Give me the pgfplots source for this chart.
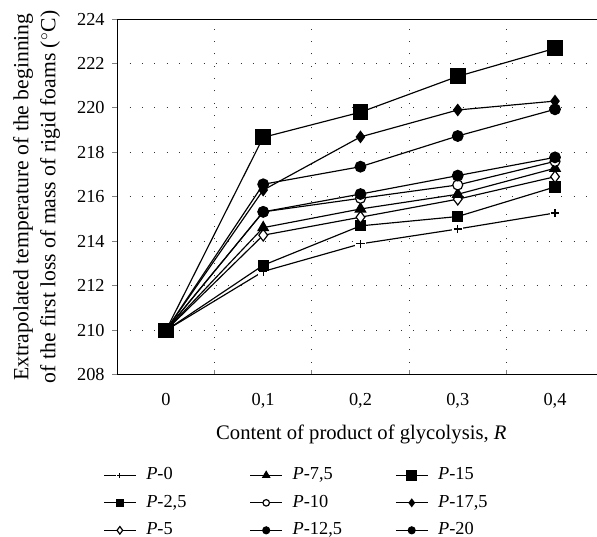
\documentclass[border=0pt]{standalone}
\usepackage{fontspec}
\setmainfont{Liberation Serif}
\usepackage{pgfplots}
\pgfplotsset{compat=1.18}
\pgfdeclareplotmark{wplus}{%
  \begin{pgfscope}%
  \pgfsetfillcolor{white}%
  \pgfpathrectangle{\pgfqpoint{-1.3\pgfplotmarksize}{-1.3\pgfplotmarksize}}{\pgfqpoint{2.6\pgfplotmarksize}{2.6\pgfplotmarksize}}%
  \pgfusepathqfill
  \end{pgfscope}%
  \pgfpathmoveto{\pgfqpoint{-\pgfplotmarksize}{0pt}}%
  \pgfpathlineto{\pgfqpoint{\pgfplotmarksize}{0pt}}%
  \pgfpathmoveto{\pgfqpoint{0pt}{-\pgfplotmarksize}}%
  \pgfpathlineto{\pgfqpoint{0pt}{\pgfplotmarksize}}%
  \pgfusepathqstroke}
\begin{document}
\begin{tikzpicture}
\useasboundingbox (-70.4pt,-97.2pt) rectangle (287.9pt,225pt);
\begin{axis}[
  at={(0pt,0pt)}, anchor=south west,
  scale only axis, width=287.8pt, height=213.6pt,
  xmin=-0.5, xmax=4.43, ymin=208, ymax=224,
  axis x line*=box, axis y line*=left,
  axis line style={-, line width=0.6pt},
  xtick={0.5,1.5,2.5,3.5}, xticklabels={},
  extra x ticks={0,1,2,3,4},
  extra x tick labels={0,{0,1},{0,2},{0,3},{0,4}},
  extra x tick style={major tick length=0pt, grid=none},
  xtick pos=left, ytick pos=left,
  ytick={208,210,...,224},
  major tick length=3pt,
  ytick style={xshift=-3pt, line width=0.6pt},
  xtick style={line width=0.6pt},
  xmajorgrids, ymajorgrids,
  major grid style={black!80, line width=0.6pt, dash pattern=on 0.6pt off 6.8pt},
  /pgf/number format/assume math mode=true,
  tick label style={font=\fontsize{11}{13}\selectfont},
  xticklabel style={anchor=base, yshift=-18.6pt},
  yticklabel style={inner sep=0pt, xshift=-7.4pt},
  xlabel={Content of product of glycolysis, \textit{R}},
  xlabel style={font=\fontsize{12.4}{14}\selectfont, at={(axis description cs:0.509,-0.1826)}, anchor=base},
  ylabel={Extrapolated temperature of the beginning\\of the first loss of mass of rigid foams (${}^{\circ}$C)},
  ylabel style={font=\fontsize{13}{16.2}\selectfont, align=center, at={(axis description cs:-0.1685,0.5)}, anchor=center, rotate=0},
  legend columns=3, transpose legend,
  legend style={draw=none, fill=none, anchor=north west, at={(axis description cs:-0.04,-0.245)},
    font=\fontsize{11}{13}\selectfont,
    nodes={inner sep=1pt, text height=7.5pt, text depth=2pt, anchor=west},
    row sep=5pt,
    /tikz/every odd column/.append style={column sep=5pt},
    /tikz/column 2/.append style={column sep=37pt},
    /tikz/column 4/.append style={column sep=31pt}},
  legend cell align=left,
  legend image code/.code={\draw[mark repeat=2,mark phase=2,#1,every mark/.append style={scale=0.65}] plot coordinates {(0pt,0pt) (9.5pt,0pt) (19pt,0pt)};},
  every axis plot/.append style={black, line width=0.7pt},
]
% P-0
\addplot[black, line width=0.7pt, mark=wplus, mark size=2.5pt] coordinates {(0,210) (1,212.65) (2,213.89) (3,214.56) (4,215.28)};
\addlegendentry{\textit{P}-0}
% P-2,5
\addplot[black, line width=0.7pt, mark=square*, mark size=3pt] coordinates {(0,210) (1,212.93) (2,214.70) (3,215.12) (4,216.45)};
\addlegendentry{\textit{P}-2,5}
% P-5
\addplot[black, line width=0.7pt, mark=diamond*, mark size=3.5pt, mark options={fill=white}] coordinates {(0,210) (1,214.28) (2,215.09) (3,215.90) (4,216.91)};
\addlegendentry{\textit{P}-5}
% P-7,5
\addplot[black, line width=0.7pt, mark=triangle*, mark size=3.6pt] coordinates {(0,210) (1,214.62) (2,215.46) (3,216.12) (4,217.29)};
\addlegendentry{\textit{P}-7,5}
% P-10
\addplot[black, line width=0.7pt, mark=*, mark size=3pt, mark options={fill=white}] coordinates {(0,210) (1,215.33) (2,215.94) (3,216.54) (4,217.60)};
\addlegendentry{\textit{P}-10}
% P-12,5
\addplot[black, line width=0.7pt, mark=*, mark size=3.2pt] coordinates {(0,210) (1,215.33) (2,216.13) (3,216.96) (4,217.78)};
\addlegendentry{\textit{P}-12,5}
% P-15
\addplot[black, line width=0.7pt, mark=square*, mark size=4.4pt] coordinates {(0,210) (1,218.68) (2,219.81) (3,221.42) (4,222.68)};
\addlegendentry{\textit{P}-15}
% P-17,5
\addplot[black, line width=0.7pt, mark=diamond*, mark size=3.3pt] coordinates {(0,210) (1,216.31) (2,218.70) (3,219.91) (4,220.31)};
\addlegendentry{\textit{P}-17,5}
% P-20
\addplot[black, line width=0.7pt, mark=*, mark size=3.2pt] coordinates {(0,210) (1,216.57) (2,217.36) (3,218.74) (4,219.94)};
\addlegendentry{\textit{P}-20}
\end{axis}
\end{tikzpicture}
\end{document}
